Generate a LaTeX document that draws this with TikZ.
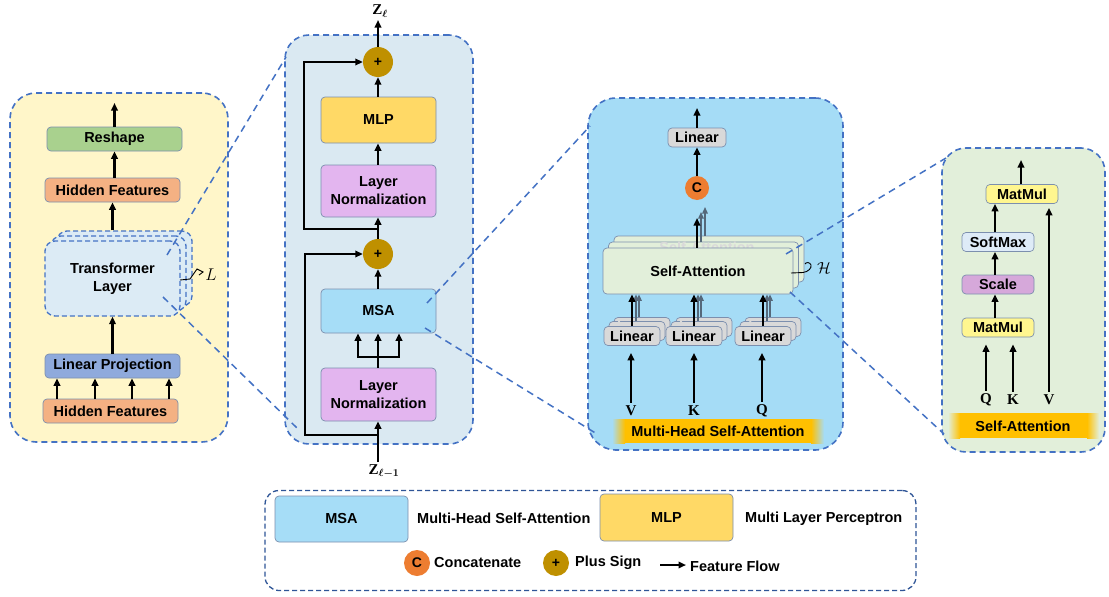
\RequirePackage{fix-cm}
\documentclass[tikz,border=0pt]{standalone}
\usepackage[no-math]{fontspec}
\setmainfont{Liberation Sans}
\newfontfamily\serifbold{Liberation Serif}
\usetikzlibrary{arrows.meta,calc}
\definecolor{pb}{HTML}{4472C4}
\definecolor{lgb}{HTML}{2F5597}
\definecolor{bb}{HTML}{7C8FAE}
\definecolor{pyel}{HTML}{FFF6C9}
\definecolor{pmid}{HTML}{DAE9F2}
\definecolor{pmsa}{HTML}{A5DCF6}
\definecolor{pgrn}{HTML}{E2EFDA}
\definecolor{cgreen}{HTML}{A9D18E}
\definecolor{corange}{HTML}{F4B183}
\definecolor{cblue}{HTML}{8FAADC}
\definecolor{ctl}{HTML}{DCEBF5}
\definecolor{cln}{HTML}{E3B5EF}
\definecolor{cmlp}{HTML}{FFD966}
\definecolor{cmsa}{HTML}{A6DDF7}
\definecolor{cplus}{HTML}{BF9000}
\definecolor{ccat}{HTML}{ED7D31}
\definecolor{clin}{HTML}{D9D9D9}
\definecolor{cmm}{HTML}{FFF68F}
\definecolor{csm}{HTML}{DEEBF7}
\definecolor{csc}{HTML}{D6A8DA}
\definecolor{cgold}{HTML}{FFC000}
\definecolor{shd}{HTML}{55687A}
\newcommand{\bft}{\bfseries\fontsize{14.5}{18}\selectfont}
\begin{document}
\begin{tikzpicture}[x=1pt,y=-1pt,
  panel/.style={draw=pb, line width=1.6pt, dash pattern=on 6pt off 4pt, rounded corners=#1},
  blk/.style={draw=bb, line width=0.7pt, rounded corners=4pt, font=\bft, align=center, inner sep=0pt, text=black},
  tfb/.style={draw=pb, fill=ctl, line width=1.3pt, dash pattern=on 5pt off 3pt, rounded corners=10pt, font=\bft, align=center, minimum width=135pt, minimum height=75pt},
  arr/.style={line width=2.1pt, -{Triangle[length=7.5pt,width=6.5pt]}},
  sarr/.style={line width=1.4pt, draw=shd, -{Triangle[length=6.5pt,width=5.5pt]}},
  zline/.style={draw=pb, line width=1.5pt, dash pattern=on 7pt off 5pt},
  circ/.style={circle, minimum size=#1, inner sep=0pt, font=\bfseries\fontsize{14}{16}\selectfont},
  txt/.style={font=\bft, inner sep=0pt},
  mlab/.style={font=\serifbold\bfseries\fontsize{15}{17}\selectfont\boldmath, inner sep=1pt},
  faint/.style={font=\bft, text=gray!30, inner sep=0pt},
]
\useasboundingbox (0,0) rectangle (1109,597);
\fill[white] (0,0) rectangle (1109,597);

% ---------------- left panel ----------------
\node[panel=26pt, fill=pyel, minimum width=218pt, minimum height=349pt] (leftp) at (119,267.5) {};
\node[blk, fill=cgreen, minimum width=135pt, minimum height=24pt] (rs) at (114.5,139) {Reshape};
\node[blk, fill=corange, minimum width=135pt, minimum height=24pt] (hf1) at (112.5,190) {Hidden Features};
\node[tfb] (tf2) at (124.5,268.5) {};
\node[tfb] (tf1) at (118.5,273.5) {};
\node[tfb] (tf) at (112.5,278.5) {Transformer\\Layer};
\node[blk, fill=cblue, minimum width=135pt, minimum height=24pt] (lpj) at (112.5,366) {Linear Projection};
\node[blk, fill=corange, minimum width=135pt, minimum height=24pt] (hf2) at (110.5,411) {Hidden Features};
\coordinate (lout) at (114.5,103);
\draw[arr] (rs.north) -- (lout);
\draw[arr] (hf1.north -| rs.north) -- (rs.south);
\draw[arr] (tf.north |- tf2.north) -- (hf1.south);
\draw[arr] (lpj.north) -- (tf.south);
\foreach \x in {57,95,132,169} \draw[arr] (hf2.north -| \x,0) -- (lpj.south -| \x,0);
\node[font=\fontsize{17}{19}\selectfont, inner sep=1pt] (Ll) at (211,275) {$L$};
\draw[line width=0.9pt] (180,280) -- (190,279) -- (197,269) -- (203,272) -- (199,275);

% ---------------- middle panel ----------------
\node[panel=24pt, fill=pmid, minimum width=188pt, minimum height=409pt] (midp) at (379,239.5) {};
\node[circ=30pt, fill=cplus] (p1) at (378,62) {+};
\node[blk, fill=cmlp, minimum width=115pt, minimum height=46pt] (mlp) at (378.5,120) {MLP};
\node[blk, fill=cln, minimum width=115pt, minimum height=52pt] (ln1) at (378.5,191) {Layer\\Normalization};
\node[circ=30pt, fill=cplus] (p2) at (378,254) {+};
\node[blk, fill=cmsa, minimum width=115pt, minimum height=44pt] (msa) at (378.5,311) {MSA};
\node[blk, fill=cln, minimum width=115pt, minimum height=53pt] (ln2) at (378.5,394.5) {Layer\\Normalization};
\node[mlab] (zl) at (380,11) {Z$_{\ell}$};
\node[mlab] (zl1) at (384,471) {Z$_{\ell-1}$};
\draw[arr] (p1.north) -- (378,20);
\draw[arr] (mlp.north -| p1.south) -- (p1.south);
\draw[arr] (ln1.north -| p1.south) -- (mlp.south -| p1.south);
\draw[arr] (p2.north) -- (ln1.south -| p2.north);
\draw[arr] (msa.north -| p2.south) -- (p2.south);
\coordinate (fk) at (378,357);
\draw[line width=2.1pt] (ln2.north -| fk) -- (fk);
\draw[line width=2.1pt] (357,357) -- (400,357);
\foreach \x in {358,378,399} \draw[arr] (\x,357) -- (msa.south -| \x,0);
\draw[arr] (378,462) -- (ln2.south -| 378,0);
\coordinate (r2) at (378,435);
\coordinate (r1) at (378,229);
\draw[arr] (r2) -- (r2 -| 305,0) |- (p2.west);
\draw[arr] (r1) -- (r1 -| 304,0) |- (p1.west);

% ---------------- MSA panel ----------------
\node[panel=28pt, fill=pmsa, minimum width=255pt, minimum height=352pt] (msap) at (715.5,274) {};
\node[blk, fill=clin, minimum width=58pt, minimum height=19pt] (lint) at (697,137.5) {Linear};
\node[circ=24pt, fill=ccat] (cc) at (697,188) {C};
\node[blk, fill=pgrn, minimum width=190pt, minimum height=46pt] (sab2) at (709,259) {};
\node[blk, fill=pgrn, minimum width=190pt, minimum height=46pt] (sab1) at (703.5,265) {};
\node[faint] (saf) at (707,247) {Self-Attention};
\node[blk, fill=pgrn, minimum width=190pt, minimum height=46pt] (sa) at (698,271) {Self-Attention};
\foreach \n/\x in {a/632,b/694,c/763}{
  \node[blk, fill=clin, minimum width=56pt, minimum height=19pt] (lb2\n) at (\x+10,327) {};
  \node[blk, fill=clin, minimum width=56pt, minimum height=19pt] (lb1\n) at (\x+5,331) {};
  \node[faint] (lf\n) at (\x+7,325) {Linear};
  \node[blk, fill=clin, minimum width=56pt, minimum height=19pt] (lin\n) at (\x,336) {Linear};
}
\node[mlab] (vv) at (631,411) {V};
\node[mlab] (kk) at (694,411) {K};
\node[mlab] (qq) at (762,411) {Q};
\foreach \n/\m in {vv/lina,kk/linb,qq/linc}{
  \draw[arr, shorten <=2pt, shorten >=7pt] (\n.north) -- (\m.south -| \n.north);
}
\foreach \m in {lina,linb,linc}{
  \draw[sarr] ($(\m.north)+(7,-9)$) -- ($(sa.south -| \m.north)+(7,0)$);
  \draw[sarr] ($(\m.north)+(4,-5)$) -- ($(sa.south -| \m.north)+(4,0)$);
  \draw[arr] (\m.north) -- (sa.south -| \m.north);
}
\draw[sarr] (705,236) -- (705,207);
\draw[sarr] (701,242) -- (701,212);
\coordinate (catin) at (697,218);
\draw[arr] (sa.north -| catin) -- (catin);
\draw[arr] (cc.north) -- (lint.south);
\coordinate (mout) at (697,108);
\draw[arr] (lint.north) -- (mout);
\fill[left color=pmsa, right color=cgold] (612,419) rectangle (625,443);
\fill[cgold] (624.5,419) rectangle (811.5,443);
\fill[left color=cgold, right color=pmsa] (811,419) rectangle (824,443);
\node[txt] (mhsa) at (718,431) {Multi-Head Self-Attention};
\node[font=\fontsize{16}{18}\selectfont, inner sep=1pt] (HH) at (824,268) {$\mathcal{H}$};
\draw[line width=0.9pt] (791,273) -- (803,272.5) .. controls (808,272) and (812,268) .. (811,265) .. controls (810,262) and (806,262) .. (805,264);

% ---------------- Self-attention panel ----------------
\node[panel=24pt, fill=pgrn, minimum width=163pt, minimum height=304pt] (sap) at (1023.5,300) {};
\node[blk, fill=cmm, minimum width=72pt, minimum height=19pt] (mm1) at (1022,194) {MatMul};
\node[blk, fill=csm, minimum width=72pt, minimum height=19pt] (sm) at (998,242) {SoftMax};
\node[blk, fill=csc, minimum width=72pt, minimum height=19pt] (sc) at (998,284.5) {Scale};
\node[blk, fill=cmm, minimum width=72pt, minimum height=19pt] (mm2) at (998,327.5) {MatMul};
\coordinate (sout) at (1021,160);
\draw[arr] (mm1.north -| sout) -- (sout);
\draw[arr] (sm.north -| 995,0) -- (mm1.south -| 995,0);
\draw[arr] (sc.north -| 995,0) -- (sm.south -| 995,0);
\draw[arr] (mm2.north -| 995,0) -- (sc.south -| 995,0);
\node[mlab] (q2) at (986,400) {Q};
\node[mlab] (k2) at (1013,400) {K};
\node[mlab] (v2) at (1049,400) {V};
\draw[arr, shorten <=2pt, shorten >=7pt] (q2.north) -- (mm2.south -| q2.north);
\draw[arr, shorten <=2pt, shorten >=7pt] (k2.north) -- (mm2.south -| k2.north);
\draw[arr, shorten <=2pt, shorten >=4pt] (v2.north) -- (mm1.south -| v2.north);
\fill[left color=pgrn, right color=cgold] (948,413) rectangle (960,438);
\fill[cgold] (959.5,413) rectangle (1087.5,438);
\fill[left color=cgold, right color=pgrn] (1087,413) rectangle (1099,438);
\node[txt] (sat) at (1023,426) {Self-Attention};

% ---------------- zoom lines ----------------
\coordinate (z1a) at (167,255); \coordinate (z1b) at (286,57);
\coordinate (z2a) at (163,297); \coordinate (z2b) at (297,428);
\coordinate (z3a) at (427,303); \coordinate (z3b) at (590,126);
\coordinate (z4a) at (425,328); \coordinate (z4b) at (597,434);
\coordinate (z5a) at (786,254); \coordinate (z5b) at (946,158);
\coordinate (z6a) at (790,292); \coordinate (z6b) at (944,434);
\draw[zline] (z1a) -- (z1b);
\draw[zline] (z2a) -- (z2b);
\draw[zline] (z3a) -- (z3b);
\draw[zline] (z4a) -- (z4b);
\draw[zline] (z5a) -- (z5b);
\draw[zline] (z6a) -- (z6b);

% ---------------- legend ----------------
\node[draw=lgb, line width=1.3pt, dash pattern=on 5pt off 3pt, rounded corners=14pt, minimum width=651pt, minimum height=100pt] (leg) at (590.5,540.5) {};
\node[blk, fill=cmsa, minimum width=133pt, minimum height=46pt] (lmsa) at (341.5,519) {MSA};
\node[txt, anchor=west] (lmsat) at (417,518.5) {Multi-Head Self-Attention};
\node[blk, fill=cmlp, minimum width=133pt, minimum height=47pt] (lmlp) at (666.5,517.5) {MLP};
\node[txt, anchor=west] (lmlpt) at (745,518.5) {Multi Layer Perceptron};
\node[circ=26pt, fill=ccat] (lc) at (417,563) {C};
\node[txt, anchor=west] (lct) at (434,563) {Concatenate};
\node[circ=26pt, fill=cplus] (lp) at (556,563) {+};
\node[txt, anchor=west] (lpt) at (575,563) {Plus Sign};
\coordinate (fa) at (660,565); \coordinate (fb) at (686,565);
\draw[arr] (fa) -- (fb);
\node[txt, anchor=west] (fft) at (690,566) {Feature Flow};
\end{tikzpicture}
\end{document}
